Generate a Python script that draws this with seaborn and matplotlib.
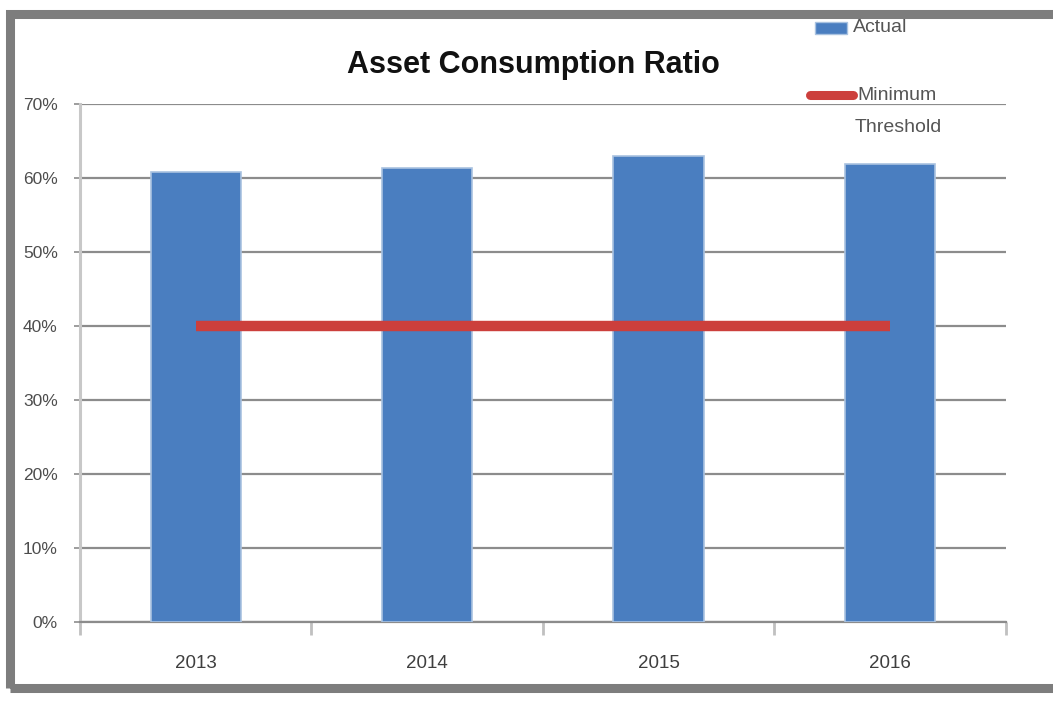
import matplotlib
matplotlib.use("Agg")
import matplotlib.pyplot as plt
import matplotlib.patches as mpatches
import matplotlib.lines as mlines
from matplotlib.ticker import FuncFormatter, FixedLocator
import numpy as np
import pandas as pd
import seaborn as sns

# Chart data
years = ["2013", "2014", "2015", "2016"]
actual = [0.608, 0.614, 0.630, 0.619]
threshold = [0.40, 0.40, 0.40, 0.40]

title = "Asset Consumption Ratio"
label_actual = "Actual"
label_threshold_1 = "Minimum"
label_threshold_2 = "Threshold"

sns.set_theme(style="white")
plt.rcParams["font.family"] = ["Liberation Sans Narrow", "Liberation Sans", "DejaVu Sans"]

df = pd.DataFrame({"Year": years, "Actual": actual})

W, H = 1053, 702
fig = plt.figure(figsize=(W / 100, H / 100), dpi=100)
ax = fig.add_axes([0.076, 0.114, 0.879, 0.738])

bar_color = "#4a7ec0"
line_color = "#cc3f3c"
grid_color = "#8c8c8c"
text_color = "#555555"

sns.barplot(data=df, x="Year", y="Actual", color=bar_color, width=0.39,
            saturation=1, edgecolor="#a9c2e0", linewidth=1.2, ax=ax, zorder=3)

sns.lineplot(x=np.arange(len(years)), y=threshold, color=line_color,
             linewidth=7.5, ax=ax, zorder=4, solid_capstyle="butt")

ax.set_xlim(-0.5, len(years) - 0.5)
ax.set_ylim(0, 0.70)
ax.yaxis.set_major_locator(FixedLocator(np.arange(0, 0.701, 0.1)))
ax.yaxis.set_major_formatter(FuncFormatter(lambda v, p: f"{v*100:.0f}%"))
ax.yaxis.grid(True, color=grid_color, linewidth=1.6, zorder=1)
ax.set_axisbelow(True)
ax.set_xlabel("")
ax.set_ylabel("")

for s in ["top", "right"]:
    ax.spines[s].set_visible(False)
ax.spines["left"].set_color("#c8c8c8")
ax.spines["left"].set_linewidth(2.2)
ax.spines["bottom"].set_color(grid_color)
ax.spines["bottom"].set_linewidth(1.6)

ax.tick_params(axis="y", which="major", left=True, length=4, width=1.2,
               color=grid_color, labelsize=12.5, labelcolor="#4d4d4d", pad=12)

# Category labels centered, boundary ticks between categories
ax.set_xticks(range(len(years)))
ax.set_xticklabels(years)
ax.tick_params(axis="x", which="major", bottom=False, labelsize=13.5,
               labelcolor="#3f3f3f", pad=18)
ax.set_xticks(np.arange(-0.5, len(years), 1.0), minor=True)
ax.tick_params(axis="x", which="minor", bottom=True, length=9, width=2,
               color="#c0c0c0", direction="out")

# Title
fig.text(0.507, 1 - 65 / H, title, ha="center", va="center", fontsize=22,
         fontweight="bold", color="#111111")

# Legend entries in the top-right corner
fig.patches.append(mpatches.Rectangle((815 / W, 1 - 34 / H), 32 / W, 12 / H,
                                      transform=fig.transFigure,
                                      facecolor=bar_color, edgecolor="#a9c2e0",
                                      linewidth=1.0))
fig.text(853 / W, 1 - 28 / H, label_actual, ha="left", va="center",
         fontsize=14, color=text_color)
fig.lines.append(mlines.Line2D([810 / W, 853 / W], [1 - 95 / H, 1 - 95 / H],
                               transform=fig.transFigure, color=line_color,
                               linewidth=6.5, solid_capstyle="round"))
fig.text(857 / W, 1 - 95 / H, label_threshold_1, ha="left", va="center",
         fontsize=14, color=text_color)
fig.text(855 / W, 1 - 127 / H, label_threshold_2, ha="left", va="center",
         fontsize=14, color=text_color)

# Outer frame
frame = mpatches.Rectangle((9.5 / W, 14 / H), 1.05, 674 / H,
                           transform=fig.transFigure, fill=False,
                           edgecolor="#7d7d7d", linewidth=6.5, clip_on=False)
fig.patches.append(frame)

fig.savefig("out.png", dpi=100)
